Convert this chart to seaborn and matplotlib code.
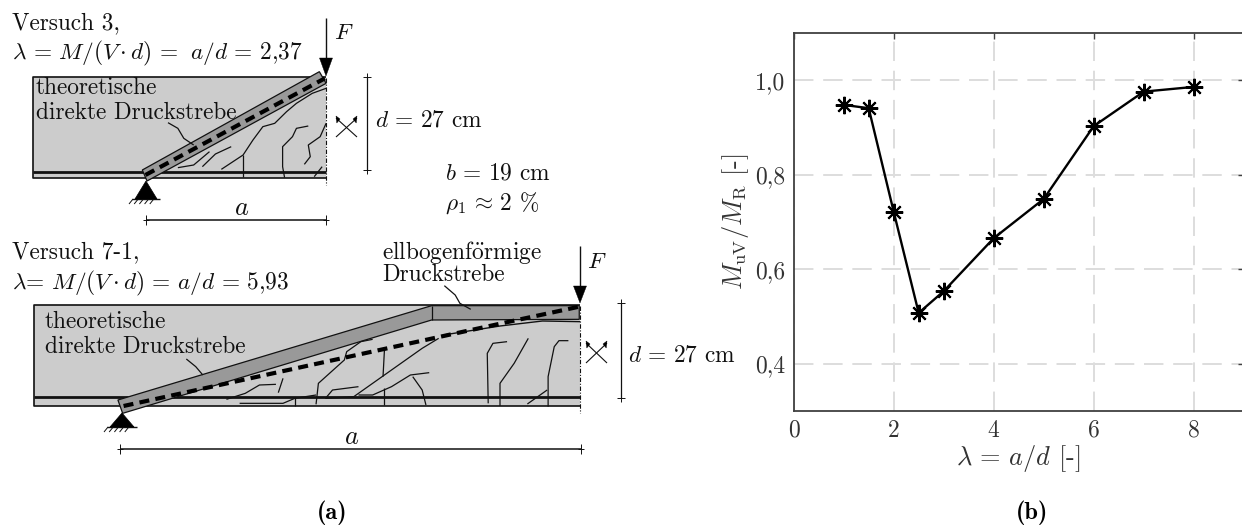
"""Versuche 3 / 7-1 schematic (a) and relative bending capacity over shear slenderness (b)."""

import matplotlib
matplotlib.use("Agg")
import matplotlib.pyplot as plt
from matplotlib.patches import Polygon
import pandas as pd
import seaborn as sns

# --- Data ---
LAMBDA = [1.0, 1.5, 2.0, 2.5, 3.0, 4.0, 5.0, 6.0, 7.0, 8.0]
M_RATIO = [0.948, 0.941, 0.722, 0.508, 0.554, 0.666, 0.749, 0.903, 0.976, 0.986]
X_TICKS = [0, 2, 4, 6, 8]
Y_TICKS = [0.4, 0.6, 0.8, 1.0]
Y_TICK_LABELS = ["0,4", "0,6", "0,8", "1,0"]

W, H = 1242, 526
INK = "#111111"
AXIS_GREY = "#404040"
FONT = ["cmr10", "DejaVu Serif"]
FS = 16.8

sns.set_theme(style="white")
plt.rcParams["font.family"] = FONT
plt.rcParams["mathtext.fontset"] = "cm"
plt.rcParams["axes.unicode_minus"] = False

fig = plt.figure(figsize=(W / 100, H / 100), dpi=100)
sk = fig.add_axes([0, 0, 1, 1])
sk.set_xlim(0, W)
sk.set_ylim(H, 0)
sk.axis("off")


def top(pts):
    return [(x / 2.53, y / 3) for x, y in pts]


def low(pts):
    return [(x / 2.12, y / 3 + 220) for x, y in pts]


def line(pts, lw=1.0, color=INK, ls="-", z=4):
    sk.plot([p[0] for p in pts], [p[1] for p in pts], color=color, lw=lw, ls=ls,
            zorder=z, solid_capstyle="butt")


def label(x, y, s, size=FS, **kw):
    sk.text(x, y, s, fontsize=size, va="center", ha="left", color=INK, zorder=6, **kw)


def support(x, y_apex, y_base, half):
    sk.add_patch(Polygon([(x, y_apex), (x - half, y_base), (x + half, y_base)], closed=True,
                         fc="black", ec="black", lw=0.5, zorder=5))
    line([(x - half - 3, y_base), (x + half + 3, y_base)], lw=1.0)
    for i in range(5):
        x0 = x - half - 2 + i * 5.2
        line([(x0, y_base), (x0 - 4, y_base + 5)], lw=0.7)


def load_arrow(x, y0, y1, y_head):
    line([(x, y0), (x, y_head)], lw=1.0)
    sk.add_patch(Polygon([(x, y1), (x - 6.5, y_head), (x + 6.5, y_head)], closed=True,
                         fc="black", ec="black", lw=0.3, zorder=7))


def dim_v(x, y0, y1):
    line([(x, y0), (x, y1)], lw=0.9)
    for y in (y0, y1):
        line([(x - 4, y), (x + 4, y)], lw=0.7)
        line([(x, y - 4), (x, y + 4)], lw=0.7)


def dim_h(y, x0, x1):
    line([(x0, y), (x1, y)], lw=1.1)
    for x in (x0, x1):
        line([(x, y - 5), (x, y + 5)], lw=0.7)
        line([(x - 3, y), (x + 3, y)], lw=0.7)


def cross_arrows(x0, x1, y0, y1):
    line([(x0, y0), (x1, y1)], lw=0.8)
    line([(x1, y0), (x0, y1)], lw=0.8)
    for xa, dx in ((x0, 4), (x1, -4)):
        sk.add_patch(Polygon([(xa, y0 - 2), (xa + dx, y0 + 1), (xa + dx * 0.2, y0 + 5)], closed=True,
                             fc="black", ec="black", lw=0.3, zorder=5))


# ===========================================================================
# Upper beam (Versuch 3)
# ===========================================================================
sk.add_patch(Polygon(top([(84, 230), (825, 230), (825, 535), (84, 535)]), closed=True,
                     fc="#cccccc", ec="none", zorder=1))
line(top([(825, 230), (84, 230), (84, 535), (825, 535)]), lw=1.2, z=3)
line(top([(84, 515), (825, 515)]), lw=2.0, z=3)
sk.add_patch(Polygon(top([(360, 510), (808, 215), (825, 250), (372, 543)]), closed=True,
                     fc="#999999", ec=INK, lw=0.9, zorder=3))
line(top([(368, 525), (822, 235)]), lw=3.0, color="black", ls=(0, (2.4, 1.5)), z=5)
line(top([(825, 235), (825, 555)]), lw=0.8, ls=(0, (4, 1.5, 1, 1.5)), z=5)

UPPER_CRACKS = [
    [(450, 503), (490, 495), (530, 455)],
    [(512, 500), (545, 462), (585, 440)],
    [(560, 508), (615, 465), (640, 420), (665, 380), (695, 370), (725, 335), (750, 310), (790, 280), (825, 265)],
    [(615, 465), (615, 530)],
    [(720, 533), (715, 500), (715, 440), (740, 410), (750, 385), (780, 378)],
    [(770, 493), (785, 470), (780, 435), (810, 410), (825, 370)],
    [(795, 530), (815, 500)],
]
for crack in UPPER_CRACKS:
    line(top(crack), lw=0.9)
line(top([(425, 368), (450, 385), (465, 415), (490, 435)]), lw=0.9, z=6)

support(146, 181, 199, 11)
load_arrow(326, 18, 76, 58)
dim_v(367, 77, 170)
dim_h(220, 146, 326)
cross_arrows(336, 357, 118, 137)

label(12, 23, "Versuch 3,")
label(12, 53, r"$\lambda\,=\,M/(V\cdot d)\,=\,\;a/d\,=\,$2,37")
label(36, 88, "theoretische")
label(36, 113, "direkte Druckstrebe")
label(334, 33, r"$F$")
label(375, 120, r"$d\,=\,$27 cm")
label(445, 173, r"$b\,=\,$19 cm")
label(445, 203, r"$\rho_1\,\approx\,$2 %")
label(234, 208, r"$a$", size=19)

# ===========================================================================
# Lower beam (Versuch 7-1)
# ===========================================================================
sk.add_patch(Polygon(low([(72, 255), (1230, 255), (1230, 558), (72, 558)]), closed=True,
                     fc="#cccccc", ec="none", zorder=1))
line(low([(1230, 255), (72, 255), (72, 558), (1230, 558)]), lw=1.2, z=3)
line(low([(72, 531), (1230, 531)]), lw=2.0, z=3)
sk.add_patch(Polygon(low([(250, 540), (915, 257), (1228, 257), (1228, 298), (915, 300), (260, 580)]), closed=True,
                     fc="#999999", ec=INK, lw=0.9, zorder=3))
line(low([(915, 257), (915, 300)]), lw=0.9, z=3)
line(low([(940, 345), (1060, 318), (1150, 303), (1230, 305)]), lw=1.0, z=3)
line(low([(262, 558), (950, 345), (1080, 305), (1228, 260)]), lw=3.0, color="black", ls=(0, (2.4, 1.5)), z=5)
line(low([(1230, 258), (1230, 580)]), lw=0.8, ls=(0, (4, 1.5, 1, 1.5)), z=5)

LOWER_CRACKS = [
    [(480, 538), (520, 520), (550, 495), (585, 493)],
    [(600, 475), (590, 518)],
    [(508, 550), (600, 550), (625, 535), (670, 525)],
    [(625, 535), (625, 558)],
    [(670, 553), (675, 490), (730, 420), (735, 395), (765, 365), (790, 358)],
    [(690, 535), (705, 510), (760, 500)],
    [(690, 535), (750, 530), (810, 470), (870, 410), (895, 385), (930, 355)],
    [(815, 390), (812, 470)],
    [(815, 505), (815, 555)],
    [(760, 525), (790, 525), (830, 500), (870, 465), (910, 458)],
    [(875, 470), (895, 510), (903, 555)],
    [(1035, 550), (1033, 400), (1045, 370), (1075, 365)],
    [(1060, 558), (1060, 490), (1090, 430), (1120, 355)],
    [(1162, 560), (1162, 470), (1175, 380), (1185, 362), (1205, 362)],
    [(1118, 552), (1160, 510)],
]
for crack in LOWER_CRACKS:
    line(low(crack), lw=0.9)
line(low([(395, 417), (415, 440), (430, 465)]), lw=0.9, z=6)
line(low([(942, 197), (965, 225), (975, 250), (998, 268)]), lw=0.9, z=6)

support(122, 413, 427, 12)
load_arrow(580, 246, 303, 286)
dim_v(621, 303, 398)
dim_h(449, 120, 581)
cross_arrows(586, 607, 343, 363)

label(12, 252, "Versuch 7-1,")
label(12, 283, r"$\lambda$= $M/(V\cdot d)\,=\,a/d\,=\,$5,93")
label(382, 252, r"ellbogenf$\ddot{\mathrm{o}}$rmige")
label(382, 275, "Druckstrebe")
label(45, 322, "theoretische")
label(45, 347, "direkte Druckstrebe")
label(587, 262, r"$F$")
label(628, 355, r"$d\,=\,$27 cm")
label(344, 437, r"$a$", size=19)

sk.text(332, 513, "(a)", fontsize=17.5, family=["cmb10", "DejaVu Serif"], fontweight="bold",
        ha="center", va="center", color="black")
sk.text(1032, 513, "(b)", fontsize=17.5, family=["cmb10", "DejaVu Serif"], fontweight="bold",
        ha="center", va="center", color="black")

# ===========================================================================
# Right panel, axes run slightly past the image edge like the original
# ===========================================================================
ax = fig.add_axes([793.7 / W, 1 - 411.3 / H, 450 / W, 378.3 / H])
ax.patch.set_alpha(0)
df = pd.DataFrame({"lam": LAMBDA, "ratio": M_RATIO})
sns.lineplot(data=df, x="lam", y="ratio", color="black", lw=1.7, marker=(8, 2, 0),
             markersize=12.5, markeredgewidth=1.5, markeredgecolor="black", errorbar=None, ax=ax)

ax.set_xlim(0, 9)
ax.set_ylim(0.3, 1.1)
ax.set_xticks(X_TICKS)
ax.set_yticks(Y_TICKS)
ax.set_yticklabels(Y_TICK_LABELS)
ax.grid(True, color="#dddddd", lw=1.4, ls=(0, (10, 5)))
ax.set_axisbelow(True)
ax.tick_params(direction="in", length=4, width=1.0, color=AXIS_GREY, labelcolor="#333333",
               labelsize=17, top=True, right=True, pad=6)
for spine in ax.spines.values():
    spine.set_color(AXIS_GREY)
    spine.set_linewidth(1.3)
ax.set_xlabel(r"$\lambda\,=\,a/d$ [-]", fontsize=19, color="#333333", labelpad=1)
ax.set_ylabel(r"$M_{\mathrm{uV}}/M_{\mathrm{R}}$ [-]", fontsize=19, color="#333333", labelpad=3)

fig.savefig("out.png", dpi=100)
